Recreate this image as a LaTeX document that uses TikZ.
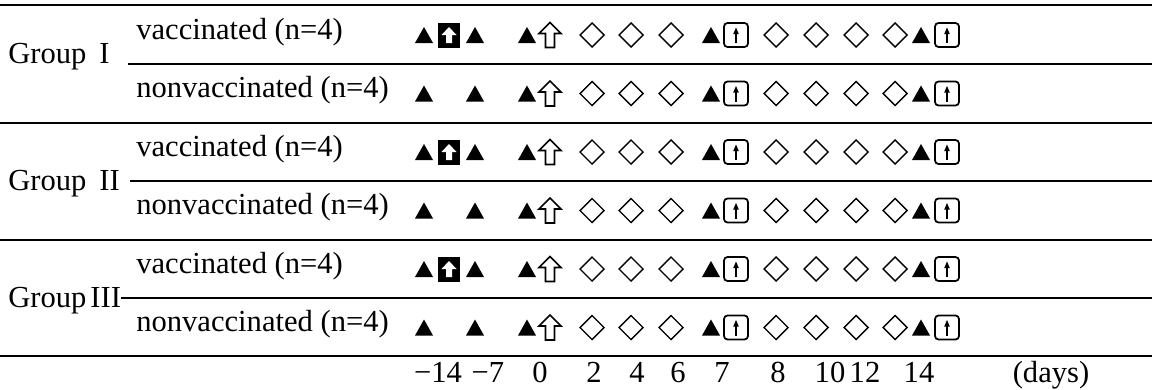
\documentclass[tikz,border=0pt]{standalone}
\usepackage{fontspec}
\setmainfont{Liberation Serif}
\usepackage{tikz}
\usetikzlibrary{positioning}
\tikzset{
  tri/.pic   ={\fill (-9,-8) -- (9,-8) -- (0,8) -- cycle;},
  blkup/.pic ={\fill (-11,-12.5) rectangle (11,12.5);
               \fill[white] (-3,-8) -- (-3,0) -- (-7.5,0) -- (0,8)
                            -- (7.5,0) -- (3,0) -- (3,-8) -- cycle;},
  holup/.pic ={\draw[line width=0.9pt, line join=miter]
               (-4.5,-12.5) -- (-4.5,1.5) -- (-11,1.5) -- (0,12.5)
               -- (11,1.5) -- (4.5,1.5) -- (4.5,-12.5) -- cycle;},
  dia/.pic   ={\draw[line width=0.8pt] (0,12) -- (12,0) -- (0,-12)
               -- (-12,0) -- cycle;},
  keyup/.pic ={\draw[line width=1pt, rounded corners=2pt] (-12,-12) rectangle (12,12);
               \draw[line width=1pt] (0,-8) -- (0,2);
               \fill (-2.8,1) -- (2.8,1) -- (0,7.5) -- cycle;}
}

\begin{document}
\begin{tikzpicture}[
  x=0.02cm, y=0.02cm,
  font=\fontsize{17.4pt}{20pt}\selectfont,
  lb/.style={anchor=base west, inner sep=0pt},
  dy/.style={anchor=base, inner sep=0pt},
  rl/.style={line width=1pt}
]
\useasboundingbox (0,0) rectangle (1152,-389);

%  Group labels
\node[lb] (grpI)   at (8,-63)  {Group\hspace{0.26cm}I};
\node[lb] (grpII)  at (8,-190) {Group\hspace{0.26cm}II};
\node[lb] (grpIII) at (8,-307) {Group\hspace{0.08cm}III};

%  Rules
\coordinate (rI)   at (0,-64);
\coordinate (rII)  at (0,-181);
\coordinate (rIII) at (0,-298);
\draw[rl] (0,-5)   -- (1152,-5);
\draw[rl] ([xshift=0.36cm]grpI.east |- rI) -- (1152,-64);
\draw[rl] (0,-123) -- (1152,-123);
\draw[rl] ([xshift=0.2cm]grpII.east |- rII) -- (1152,-181);
\draw[rl] (0,-240) -- (1152,-240);
\draw[rl] (grpIII.east |- rIII) -- (1152,-298);
\draw[rl] (0,-356) -- (1152,-356);

%  Row labels
\node[lb] (vacI)   at (136,-39)    {vaccinated (n=4)};
\node[lb] (nonI)   at (136,-97.5)  {nonvaccinated (n=4)};
\node[lb] (vacII)  at (136,-156)   {vaccinated (n=4)};
\node[lb] (nonII)  at (136,-214.5) {nonvaccinated (n=4)};
\node[lb] (vacIII) at (136,-273)   {vaccinated (n=4)};
\node[lb] (nonIII) at (136,-331.5) {nonvaccinated (n=4)};

%  Symbols
\foreach \ry in {-35,-93.5,-152,-210.5,-269,-327.5} {
  \foreach \px in {424,475,527,711,921} \pic at (\px,\ry) {tri};
  \foreach \px in {592,631,671,776,816,856,895} \pic at (\px,\ry) {dia};
  \foreach \px in {736,947} \pic at (\px,\ry) {keyup};
  \pic at (550,\ry) {holup};
}
\foreach \ry in {-35,-152,-269} \pic at (449,\ry) {blkup};

%  Time axis
\node[dy] (dm14)  at (438,-382) {−14};
\node[dy] (dm7)   at (488,-382) {−7};
\node[dy] (d0)    at (540,-382) {0};
\node[dy] (d2)    at (594,-382) {2};
\node[dy] (d4)    at (637,-382) {4};
\node[dy] (d6)    at (678,-382) {6};
\node[dy] (d7)    at (722,-382) {7};
\node[dy] (d8)    at (778,-382) {8};
\node[dy] (d10)   at (830,-382) {10};
\node[dy] (d12)   at (865,-382) {12};
\node[dy] (d14)   at (919,-382) {14};
\node[dy] (days)  at (1051,-382) {(days)};
\end{tikzpicture}
\end{document}
